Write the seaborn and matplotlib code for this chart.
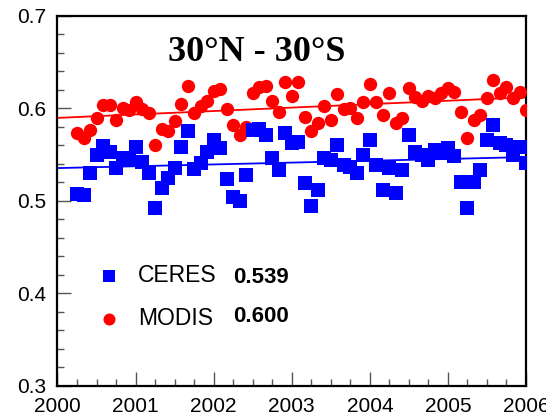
import numpy as np
import pandas as pd
import matplotlib
matplotlib.use("Agg")
import matplotlib.pyplot as plt
import seaborn as sns
from matplotlib.ticker import MultipleLocator

# monthly record, March 2000 - December 2005
months = pd.date_range("2000-03-01", "2005-12-01", freq="MS")

ceres = [0.507, 0.506, 0.530, 0.550, 0.559, 0.553, 0.536, 0.546, 0.545, 0.558,
         0.542, 0.530, 0.492, 0.514, 0.525, 0.535, 0.558, 0.575, 0.534, 0.541,
         0.553, 0.566, 0.557, 0.524, 0.504, 0.500, 0.528, 0.577, 0.578, 0.571,
         0.546, 0.533, 0.573, 0.562, 0.564, 0.519, 0.494, 0.512, 0.546, 0.544,
         0.560, 0.539, 0.537, 0.530, 0.550, 0.566, 0.539, 0.512, 0.535, 0.508,
         0.533, 0.571, 0.553, 0.550, 0.544, 0.555, 0.552, 0.557, 0.548, 0.520,
         0.492, 0.520, 0.533, 0.566, 0.582, 0.562, 0.560, 0.550, 0.558, 0.541]

modis = [0.573, 0.568, 0.577, 0.589, 0.604, 0.604, 0.587, 0.600, 0.598, 0.607,
         0.599, 0.595, 0.560, 0.578, 0.575, 0.586, 0.605, 0.624, 0.595, 0.602,
         0.608, 0.619, 0.621, 0.599, 0.582, 0.571, 0.580, 0.617, 0.623, 0.624,
         0.608, 0.596, 0.628, 0.613, 0.628, 0.591, 0.575, 0.584, 0.602, 0.587,
         0.615, 0.599, 0.600, 0.589, 0.607, 0.626, 0.607, 0.593, 0.617, 0.584,
         0.589, 0.622, 0.612, 0.608, 0.613, 0.611, 0.617, 0.622, 0.618, 0.596,
         0.568, 0.587, 0.593, 0.611, 0.631, 0.617, 0.623, 0.611, 0.618, 0.598]

series_names = ["CERES", "MODIS"]
series_means = ["0.539", "0.600"]
title_text = "30°N - 30°S"
x_ticks = [2000, 2001, 2002, 2003, 2004, 2005, 2006]
y_ticks = [0.3, 0.4, 0.5, 0.6, 0.7]

df = pd.DataFrame({
    "year": months.year + months.month / 12,
    "CERES": ceres,
    "MODIS": modis,
})

colors = {"CERES": "#0000ff", "MODIS": "#ff0000"}
markers = {"CERES": "s", "MODIS": "o"}

sns.set_style("ticks")
plt.rcParams["font.family"] = ["Liberation Sans", "DejaVu Sans"]
plt.rcParams["text.color"] = "black"

fig = plt.figure(figsize=(5.46, 4.19), dpi=100)
ax = fig.add_axes([0.1053, 0.0788, 0.8581, 0.8837])
ax.set_xlim(x_ticks[0], x_ticks[-1])
ax.set_ylim(y_ticks[0], y_ticks[-1])

# trend lines across the full axis width
for name in series_names:
    sns.regplot(data=df, x="year", y=name, scatter=False, ci=None,
                truncate=False, color=colors[name],
                line_kws={"lw": 1.3, "zorder": 1}, ax=ax)

# points, MODIS drawn first so CERES sits on top
for name in ["MODIS", "CERES"]:
    sns.scatterplot(data=df, x="year", y=name, marker=markers[name],
                    color=colors[name], s=92, linewidth=0, label=name,
                    zorder=3, ax=ax)

handles, labels = ax.get_legend_handles_labels()
order = [labels.index(n) for n in series_names]
leg = ax.legend([handles[i] for i in order], [labels[i] for i in order],
                loc="center left", bbox_to_anchor=(0.018, 0.24), frameon=False,
                fontsize=16.5, handletextpad=0.25, labelspacing=0.9,
                markerscale=0.9)
for t in leg.get_texts():
    t.set_color("black")

for name, mean, yy in zip(series_names, series_means, [0.293, 0.187]):
    ax.text(0.375, yy, mean, transform=ax.transAxes, fontsize=16,
            fontweight="bold", va="center", ha="left", color="black")

ax.text(0.425, 0.9, title_text, transform=ax.transAxes, fontsize=26,
        fontweight="bold", family="Liberation Serif", ha="center", va="center",
        color="black")

ax.set_xticks(x_ticks)
ax.set_xticklabels([str(t) for t in x_ticks])
ax.set_yticks(y_ticks)
ax.set_yticklabels([f"{t:.1f}" for t in y_ticks])
ax.xaxis.set_minor_locator(MultipleLocator(0.25))
ax.yaxis.set_minor_locator(MultipleLocator(0.02))
ax.tick_params(which="both", direction="in", colors="#555555", labelcolor="black",
               labelsize=15, width=1)
ax.tick_params(which="major", length=10, pad=8)
ax.tick_params(which="minor", length=5)
ax.set_xlabel("")
ax.set_ylabel("")
for side in ["left", "right", "top", "bottom"]:
    ax.spines[side].set_visible(True)
    ax.spines[side].set_linewidth(1.6)
    ax.spines[side].set_color("black")

fig.savefig("out.png", dpi=100)
